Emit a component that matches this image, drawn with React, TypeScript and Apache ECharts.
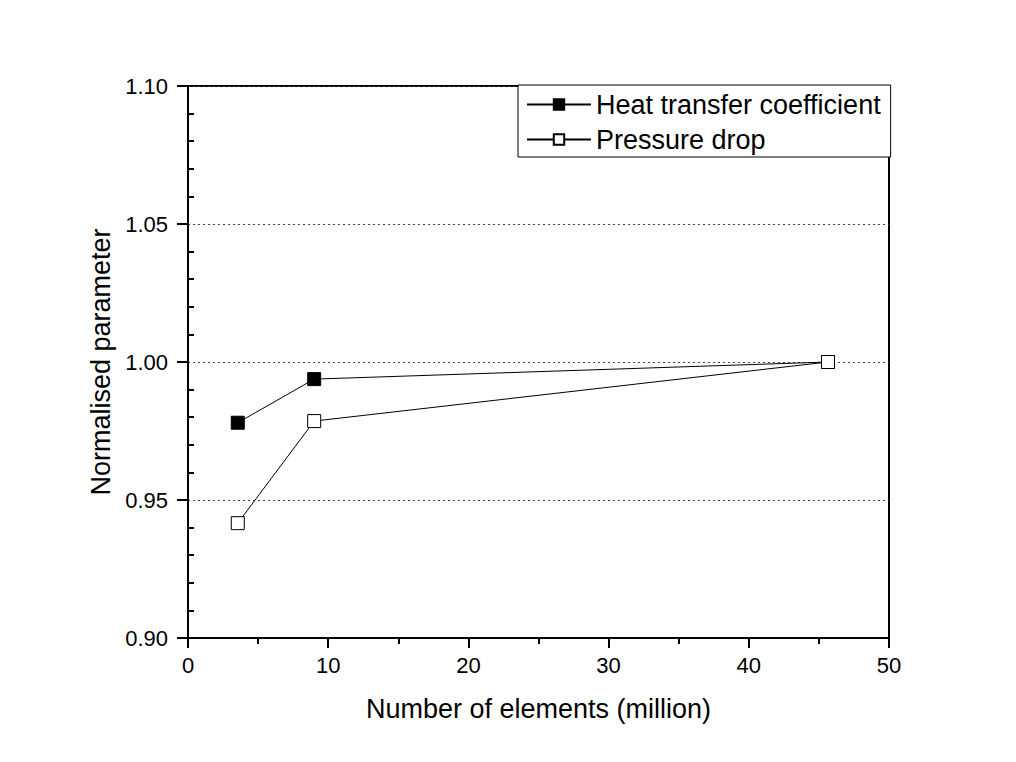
import React, { useEffect, useRef } from "react";
import * as echarts from "echarts";

const elements = [3.55, 9.0, 45.65];
const heatTransfer = [0.978, 0.9938, 1.0];
const pressureDrop = [0.9416, 0.9786, 1.0];
const seriesNames = ["Heat transfer coefficient", "Pressure drop"];

const FONT = "'Liberation Sans', Arial, sans-serif";

export default function App() {
  const ref = useRef<HTMLDivElement>(null);
  useEffect(() => {
    const chart = echarts.init(ref.current!, null, { renderer: "svg" });
    chart.setOption({
      animation: false,
      backgroundColor: "#fff",
      textStyle: { fontFamily: FONT },
      grid: {
        left: 188,
        right: 127,
        top: 86,
        bottom: 124,
        show: true,
        borderColor: "#000",
        borderWidth: 2,
      },
      legend: {
        left: 518,
        top: 85,
        orient: "vertical",
        data: seriesNames,
        itemWidth: 64,
        itemHeight: 13,
        itemGap: 8,
        padding: [6, 10, 4, 8],
        borderColor: "#000",
        borderWidth: 1,
        backgroundColor: "#fff",
        textStyle: { fontSize: 27, color: "#000", fontFamily: FONT },
      },
      xAxis: {
        type: "value",
        min: 0,
        max: 50,
        interval: 10,
        name: "Number of elements (million)",
        nameLocation: "middle",
        nameGap: 57,
        nameTextStyle: { fontSize: 27, color: "#000", fontFamily: FONT },
        axisLine: { show: true, lineStyle: { color: "#000", width: 2 } },
        axisTick: { show: true, inside: false, length: 10, lineStyle: { color: "#000", width: 2 } },
        minorTick: { show: true, splitNumber: 2, length: 6, lineStyle: { color: "#000", width: 2 } },
        axisLabel: { fontSize: 22, color: "#000", margin: 16, fontFamily: FONT },
        splitLine: { show: false },
      },
      yAxis: {
        type: "value",
        min: 0.9,
        max: 1.1,
        interval: 0.05,
        name: "Normalised parameter",
        nameLocation: "middle",
        nameGap: 73,
        nameTextStyle: { fontSize: 27, color: "#000", fontFamily: FONT },
        axisLine: { show: true, lineStyle: { color: "#000", width: 2 } },
        axisTick: { show: true, inside: false, length: 11, lineStyle: { color: "#000", width: 2 } },
        minorTick: { show: true, splitNumber: 5, length: -6, lineStyle: { color: "#000", width: 2 } },
        axisLabel: {
          fontSize: 22,
          color: "#000",
          margin: 20,
          fontFamily: FONT,
          formatter: (v: number) => v.toFixed(2),
        },
        splitLine: {
          show: true,
          lineStyle: { color: "#444", type: [2, 3], width: 1 },
        },
      },
      series: [
        {
          name: seriesNames[0],
          type: "line",
          data: elements.map((x, i) => [x, heatTransfer[i]]),
          symbol: "rect",
          symbolSize: 13,
          lineStyle: { color: "#000", width: 1 },
          itemStyle: { color: "#000", borderColor: "#000", borderWidth: 1 },
        },
        {
          name: seriesNames[1],
          type: "line",
          data: elements.map((x, i) => [x, pressureDrop[i]]),
          symbol: "rect",
          symbolSize: 13,
          lineStyle: { color: "#000", width: 1 },
          itemStyle: { color: "#fff", borderColor: "#000", borderWidth: 1 },
        },
      ],
    });
    return () => chart.dispose();
  }, []);
  return (
    <div
      ref={ref}
      style={{ position: "absolute", left: 0, top: 0, width: 1016, height: 762 }}
    />
  );
}
